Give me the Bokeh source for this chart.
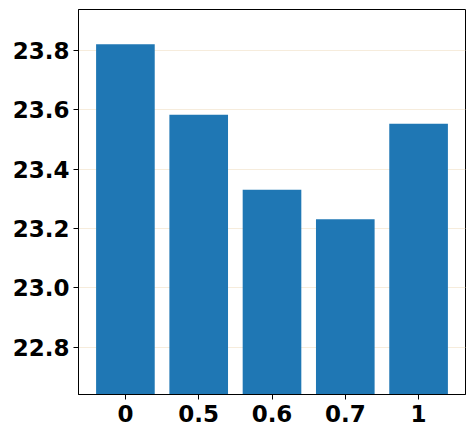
from bokeh.plotting import figure
from bokeh.models import Range1d, FixedTicker
from bokeh.embed import file_html
from bokeh.resources import INLINE

categories = ["0", "0.5", "0.6", "0.7", "1"]
values = [23.821, 23.583, 23.330, 23.231, 23.553]
y_ticks = [22.8, 23.0, 23.2, 23.4, 23.6, 23.8]

xs = list(range(len(categories)))

p = figure(width=467, height=430, output_backend="svg", toolbar_location=None,
           x_range=Range1d(-0.64, len(categories) - 1 + 0.64),
           y_range=Range1d(22.64, 23.938),
           min_border_left=78, min_border_right=2, min_border_top=9, min_border_bottom=36)

p.vbar(x=xs, top=values, bottom=22.64, width=0.8, fill_color="#1f77b4", line_color=None)

p.xaxis.ticker = FixedTicker(ticks=xs)
p.xaxis.major_label_overrides = {i: c for i, c in enumerate(categories)}
p.yaxis.ticker = FixedTicker(ticks=y_ticks)
p.yaxis.major_label_overrides = {t: f"{t:.1f}" for t in y_ticks}

for ax in (p.xaxis, p.yaxis):
    ax.major_label_text_font = "DejaVu Sans"
    ax.major_label_text_font_style = "bold"
    ax.major_label_text_font_size = "23px"
    ax.major_label_text_color = "black"
    ax.axis_line_color = "black"
    ax.major_tick_line_color = "black"
    ax.major_tick_out = 5
    ax.major_tick_in = 0
    ax.minor_tick_line_color = None
p.yaxis.major_label_standoff = 4
p.xaxis.major_label_standoff = 5

p.xgrid.grid_line_color = None
p.ygrid.grid_line_color = "#f6ecdc"
p.ygrid.grid_line_width = 1
p.outline_line_color = "black"
p.outline_line_alpha = 1
p.background_fill_color = "white"

open("out.html", "w").write(file_html(p, INLINE))
